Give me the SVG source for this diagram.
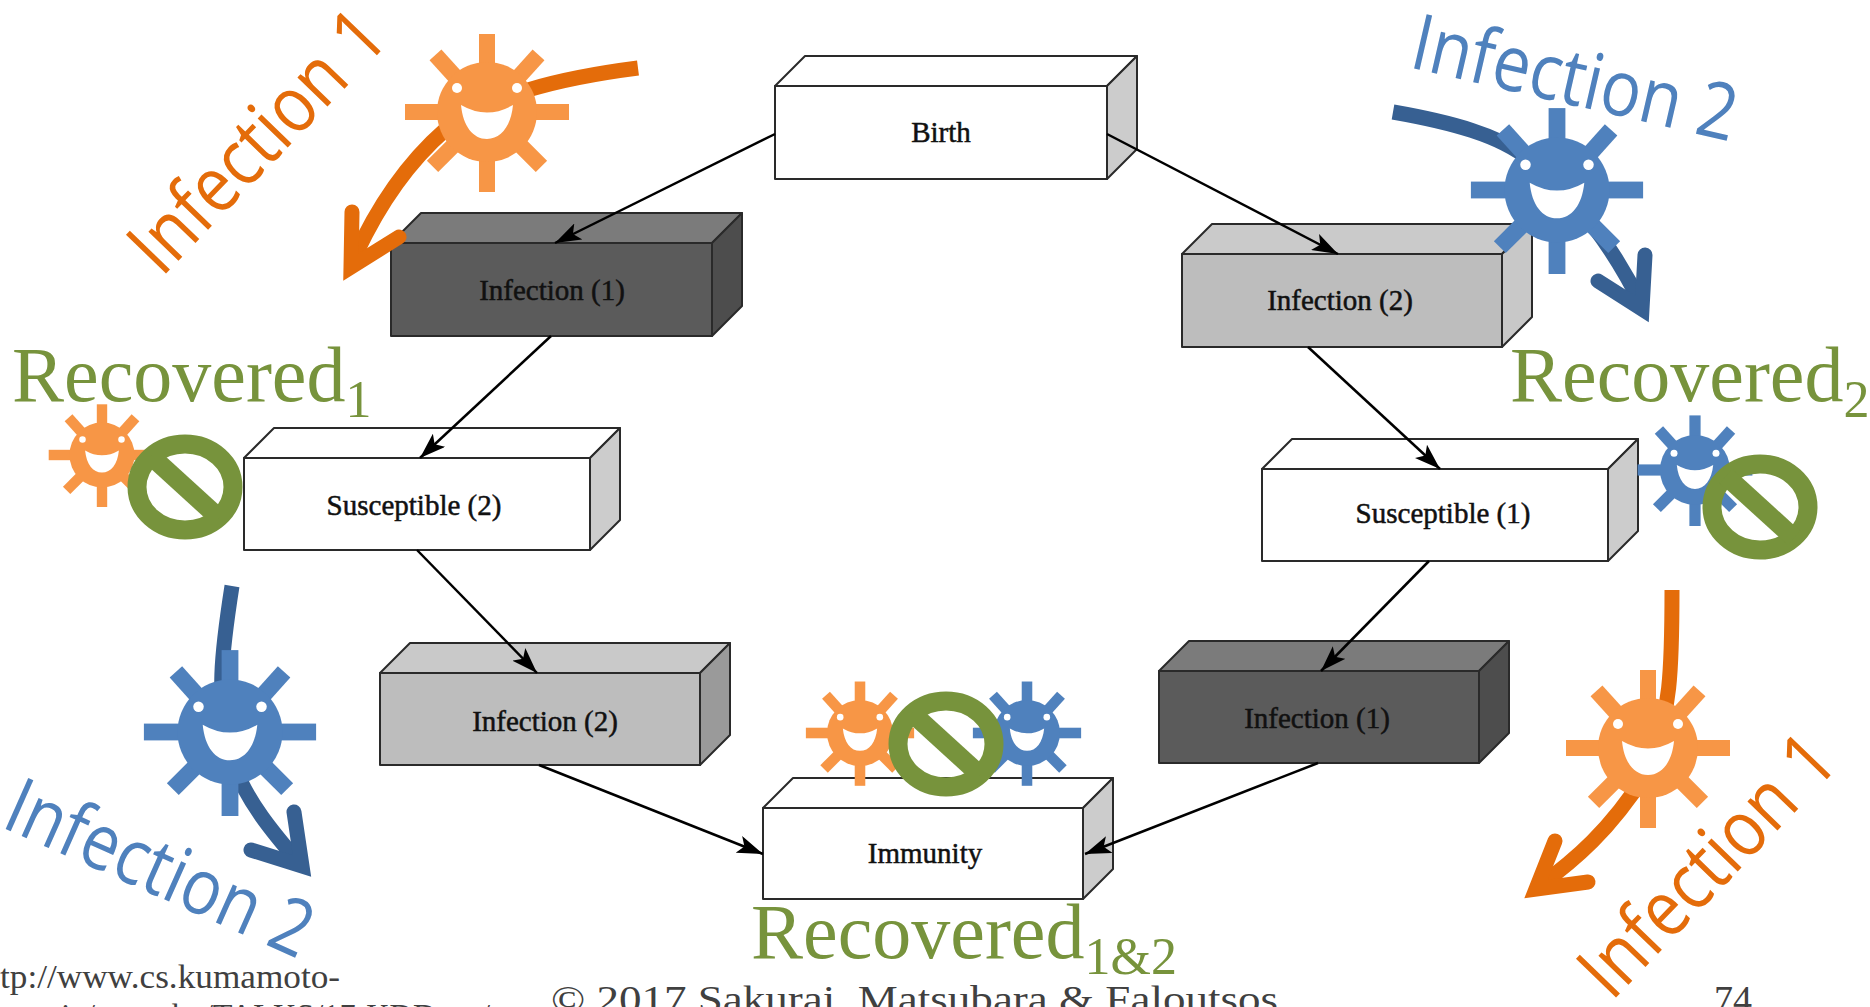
<svg xmlns="http://www.w3.org/2000/svg" xmlns:xlink="http://www.w3.org/1999/xlink" width="1870" height="1007" viewBox="0 0 1870 1007">
  <style>
    .edge { stroke: #2a2a2a; stroke-width: 2; stroke-linejoin: round; }
    .white .front, .white .top { fill: #ffffff; }
    .white .side { fill: #cccccc; }
    .dark .front { fill: #5b5b5b; }
    .dark .top { fill: #7b7b7b; }
    .dark .side { fill: #4d4d4d; }
    .grey .front { fill: #bdbdbd; }
    .grey .top { fill: #cacaca; }
    .grey .side { fill: #c8c8c8; }
    .grey2 .front { fill: #bdbdbd; }
    .grey2 .top { fill: #c9c9c9; }
    .grey2 .side { fill: #9a9a9a; }
    .label { font-family: "Liberation Serif", "Times New Roman", serif; font-size: 29px; fill: #111; stroke: #111; stroke-width: 0.5; text-anchor: middle; }
    .conn { fill: none; stroke: #000; stroke-width: 2.5; marker-end: url(#ah); }
    .inf { font-family: "Open Sans", "Noto Sans", sans-serif; font-size: 78px; text-anchor: middle; }
    .orangeT { fill: #e46c0a; }
    .blueT { fill: #4f81bd; }
    .rec { font-family: "Liberation Serif", "Times New Roman", serif; font-size: 78px; fill: #77933c; }
    .foot { font-family: "Liberation Serif", "Times New Roman", serif; fill: #404040; }
    .shaft { fill: none; stroke-width: 15; stroke-linecap: butt; }
    .head { fill: none; stroke-width: 15; stroke-linecap: round; stroke-linejoin: miter; stroke-miterlimit: 6; }
    .oArrow { stroke: #e46c0a; }
    .bArrow { stroke: #376092; }
  </style>
  <defs>
    <marker id="ah" viewBox="0 0 26 18" refX="26" refY="9" markerWidth="26" markerHeight="18" orient="auto" markerUnits="userSpaceOnUse">
      <path d="M0,0 L26,9 L0,18 L6,9 Z" fill="#000"/>
    </marker>
    <!-- smiling germ, centred on the origin -->
    <g id="virus">
      <rect x="-8" y="-78" width="16" height="46"/>
      <rect x="-8" y="32" width="16" height="48"/>
      <rect x="-82" y="-8" width="50" height="16"/>
      <rect x="32" y="-8" width="50" height="16"/>
      <rect x="-8" y="-77" width="16" height="45" transform="rotate(42)"/>
      <rect x="-8" y="-77" width="16" height="45" transform="rotate(-42)"/>
      <rect x="-8" y="-77" width="16" height="45" transform="rotate(135)"/>
      <rect x="-8" y="-77" width="16" height="45" transform="rotate(-135)"/>
      <circle r="50"/>
      <circle cx="-30" cy="-24" r="5" fill="#fff"/>
      <circle cx="30" cy="-24" r="5" fill="#fff"/>
      <path d="M-26,-7 Q0,8 26,-7 C24,14 14,27 0,27 C-14,27 -24,14 -26,-7 Z" fill="#fff"/>
    </g>
    <!-- prohibition sign -->
    <g id="nosign" fill="none" stroke="#77933c" stroke-width="19">
      <ellipse rx="48" ry="43"/>
      <line x1="-34" y1="-31" x2="34" y2="31"/>
    </g>
  </defs>

  <rect width="1870" height="1007" fill="#fff"/>

  <!-- state boxes -->
  <g id="birth" class="white">
    <polygon class="top edge" points="775,86 805,56 1137,56 1107,86"/>
    <polygon class="side edge" points="1107,86 1137,56 1137,149 1107,179"/>
    <rect class="front edge" x="775" y="86" width="332" height="93"/>
    <text class="label" x="941" y="142">Birth</text>
  </g>
  <g id="infection1-top" class="dark">
    <polygon class="top edge" points="391,243 421,213 742,213 712,243"/>
    <polygon class="side edge" points="712,243 742,213 742,306 712,336"/>
    <rect class="front edge" x="391" y="243" width="321" height="93"/>
    <text class="label" x="552" y="300">Infection (1)</text>
  </g>
  <g id="infection2-top" class="grey">
    <polygon class="top edge" points="1182,254 1212,224 1532,224 1502,254"/>
    <polygon class="side edge" points="1502,254 1532,224 1532,317 1502,347"/>
    <rect class="front edge" x="1182" y="254" width="320" height="93"/>
    <text class="label" x="1340" y="310">Infection (2)</text>
  </g>
  <g id="susceptible2" class="white">
    <polygon class="top edge" points="244,458 274,428 620,428 590,458"/>
    <polygon class="side edge" points="590,458 620,428 620,520 590,550"/>
    <rect class="front edge" x="244" y="458" width="346" height="92"/>
    <text class="label" x="414" y="515">Susceptible (2)</text>
  </g>
  <g id="susceptible1" class="white">
    <polygon class="top edge" points="1262,469 1292,439 1638,439 1608,469"/>
    <polygon class="side edge" points="1608,469 1638,439 1638,531 1608,561"/>
    <rect class="front edge" x="1262" y="469" width="346" height="92"/>
    <text class="label" x="1443" y="523">Susceptible (1)</text>
  </g>
  <g id="infection2-bottom" class="grey2">
    <polygon class="top edge" points="380,673 410,643 730,643 700,673"/>
    <polygon class="side edge" points="700,673 730,643 730,735 700,765"/>
    <rect class="front edge" x="380" y="673" width="320" height="92"/>
    <text class="label" x="545" y="731">Infection (2)</text>
  </g>
  <g id="infection1-bottom" class="dark">
    <polygon class="top edge" points="1159,671 1189,641 1509,641 1479,671"/>
    <polygon class="side edge" points="1479,671 1509,641 1509,733 1479,763"/>
    <rect class="front edge" x="1159" y="671" width="320" height="92"/>
    <text class="label" x="1317" y="728">Infection (1)</text>
  </g>
  <g id="immunity" class="white">
    <polygon class="top edge" points="763,808 793,778 1113,778 1083,808"/>
    <polygon class="side edge" points="1083,808 1113,778 1113,869 1083,899"/>
    <rect class="front edge" x="763" y="808" width="320" height="91"/>
    <text class="label" x="925" y="863">Immunity</text>
  </g>

  <!-- transitions -->
  <g id="connectors">
    <path class="conn" d="M775,134 L555,243"/>
    <path class="conn" d="M1107,134 L1338,254"/>
    <path class="conn" d="M551,336 L420,458"/>
    <path class="conn" d="M1308,347 L1440,469"/>
    <path class="conn" d="M417,550 L537,673"/>
    <path class="conn" d="M1429,561 L1321,671"/>
    <path class="conn" d="M539,765 L763,854"/>
    <path class="conn" d="M1318,763 L1085,854"/>
  </g>

  <!-- infection arrows with germs -->
  <g id="infection1-arrow-top">
    <path class="shaft oArrow" d="M638,68 C560,78 490,95 445,130 C405,165 375,210 351,265"/>
    <path class="head oArrow" d="M352,212 L351,267 L399,237"/>
    <use xlink:href="#virus" transform="translate(487,112)" fill="#f79646"/>
  </g>
  <g id="infection2-arrow-top">
    <path class="shaft bArrow" d="M1393,112 C1450,122 1500,135 1530,160 C1578,200 1615,250 1642,306"/>
    <path class="head bArrow" d="M1598,281 L1642,309 L1645,255"/>
    <use xlink:href="#virus" transform="translate(1557,190) scale(1.05)" fill="#4f81bd"/>
  </g>
  <g id="infection2-arrow-bottom">
    <path class="shaft bArrow" d="M232,586 C222,650 215,700 232,760 C245,800 275,835 300,864"/>
    <path class="head bArrow" d="M251,850 L302,866 L294,812"/>
    <use xlink:href="#virus" transform="translate(230,732) scale(1.05)" fill="#4f81bd"/>
  </g>
  <g id="infection1-arrow-bottom">
    <path class="shaft oArrow" d="M1672,590 C1672,660 1672,720 1645,775 C1610,830 1575,860 1538,887"/>
    <path class="head oArrow" d="M1555,841 L1536,889 L1588,882"/>
    <use xlink:href="#virus" transform="translate(1648,748)" fill="#f79646"/>
  </g>

  <!-- recovered markers -->
  <g id="recovered1-mark">
    <use xlink:href="#virus" transform="translate(102,455) scale(0.65)" fill="#f79646"/>
    <use xlink:href="#nosign" transform="translate(185,487)"/>
  </g>
  <g id="recovered2-mark">
    <use xlink:href="#virus" transform="translate(1695,470) scale(0.7)" fill="#4f81bd"/>
    <use xlink:href="#nosign" transform="translate(1760,507)"/>
  </g>
  <g id="recovered12-mark">
    <use xlink:href="#virus" transform="translate(860,733) scale(0.66)" fill="#f79646"/>
    <use xlink:href="#virus" transform="translate(1027,733) scale(0.66)" fill="#4f81bd"/>
    <use xlink:href="#nosign" transform="translate(946,744)"/>
  </g>

  <!-- captions -->
  <g id="captions">
    <text class="inf orangeT" transform="translate(256,140) rotate(-46)" y="28" textLength="330" lengthAdjust="spacingAndGlyphs">Infection 1</text>
    <text class="inf orangeT" transform="translate(1706,864) rotate(-46)" y="28" textLength="330" lengthAdjust="spacingAndGlyphs">Infection 1</text>
    <text class="inf blueT" transform="translate(1575,78) rotate(13)" y="27" textLength="331" lengthAdjust="spacingAndGlyphs">Infection 2</text>
    <text class="inf blueT" transform="translate(160,868) rotate(24)" y="27" textLength="327" lengthAdjust="spacingAndGlyphs">Infection 2</text>

    <text class="rec" x="12" y="401">Recovered<tspan font-size="52" dy="16">1</tspan></text>
    <text class="rec" x="1510" y="401">Recovered<tspan font-size="52" dy="16">2</tspan></text>
    <text class="rec" x="751" y="958">Recovered<tspan font-size="52" dy="16">1&amp;2</tspan></text>
  </g>

  <!-- footer -->
  <g id="footer">
    <text class="foot" x="0" y="988" font-size="34" textLength="340" lengthAdjust="spacingAndGlyphs">tp://www.cs.kumamoto-</text>
    <text class="foot" x="0" y="1027" font-size="34" textLength="490" lengthAdjust="spacingAndGlyphs">u.ac.jp/~yasuko/TALKS/17-KDD-tut/</text>
    <text class="foot" x="551" y="1012" font-size="38" textLength="727" lengthAdjust="spacingAndGlyphs">© 2017 Sakurai, Matsubara &amp; Faloutsos</text>
    <text class="foot" x="1714" y="1012" font-size="38">74</text>
  </g>
</svg>
